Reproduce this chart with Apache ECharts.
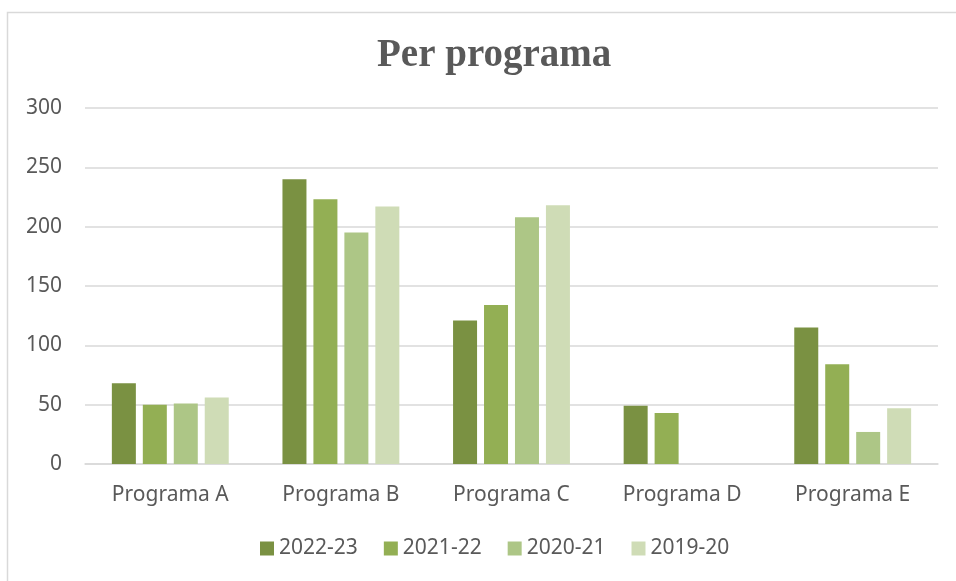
<!DOCTYPE html>
<html>
<head>
<meta charset="utf-8">
<script src="https://cdn.jsdelivr.net/npm/echarts@6/dist/echarts.min.js"></script>
<style>
  html, body { margin: 0; padding: 0; background: #fff; }
  #main { width: 956px; height: 581px; }
</style>
</head>
<body>
<div id="main"></div>
<script>
const categories = ['Programa A', 'Programa B', 'Programa C', 'Programa D', 'Programa E']
const seriesNames = ['2022-23', '2021-22', '2020-21', '2019-20']
const values2022 = [68, 240, 121, 49, 115]
const values2021 = [50, 223, 134, 43, 84]
const values2020 = [51, 195, 208, 0, 27]
const values2019 = [56, 217, 218, 0, 47]
const colors = ['#7a9142', '#93af54', '#adc686', '#cfdcb6']

const chartDom = document.getElementById('main')
const myChart = echarts.init(chartDom)

const allValues = [values2022, values2021, values2020, values2019]
const series = seriesNames.map(function (name, i) {
  return {
    name: name,
    type: 'bar',
    barWidth: 24,
    barGap: '29%',
    itemStyle: { color: colors[i] },
    data: allValues[i]
  }
})

const option = {
  animation: false,
  backgroundColor: '#fff',
  color: colors,
  title: {
    text: 'Per programa',
    left: 372,
    top: 31,
    textStyle: {
      fontFamily: 'Liberation Serif',
      fontWeight: 'bold',
      fontSize: 39,
      color: '#595959'
    }
  },
  graphic: [
    {
      type: 'rect',
      shape: { x: 7.5, y: 12.5, width: 1000, height: 1000 },
      style: { fill: 'none', stroke: '#d9d9d9', lineWidth: 1.5 },
      silent: true
    }
  ],
  legend: {
    data: seriesNames,
    bottom: 17,
    left: 255,
    itemWidth: 14,
    itemHeight: 14,
    itemGap: 26,
    icon: 'rect',
    textStyle: { fontFamily: 'Noto Sans', fontSize: 21, color: '#595959' }
  },
  grid: {
    left: 85,
    right: 18,
    top: 108,
    bottom: 117,
    containLabel: false
  },
  xAxis: {
    type: 'category',
    data: categories,
    axisTick: { show: false },
    axisLine: { lineStyle: { color: '#d9d9d9', width: 1.5 } },
    axisLabel: {
      margin: 21,
      fontFamily: 'Noto Sans',
      fontSize: 21,
      color: '#595959'
    }
  },
  yAxis: {
    type: 'value',
    min: 0,
    max: 300,
    interval: 50,
    axisLine: { show: false },
    axisTick: { show: false },
    splitLine: { lineStyle: { color: '#d9d9d9', width: 1.5 } },
    axisLabel: {
      margin: 23,
      fontFamily: 'Noto Sans',
      fontSize: 21,
      color: '#595959'
    }
  },
  series: series
}

myChart.setOption(option)
</script>
</body>
</html>
